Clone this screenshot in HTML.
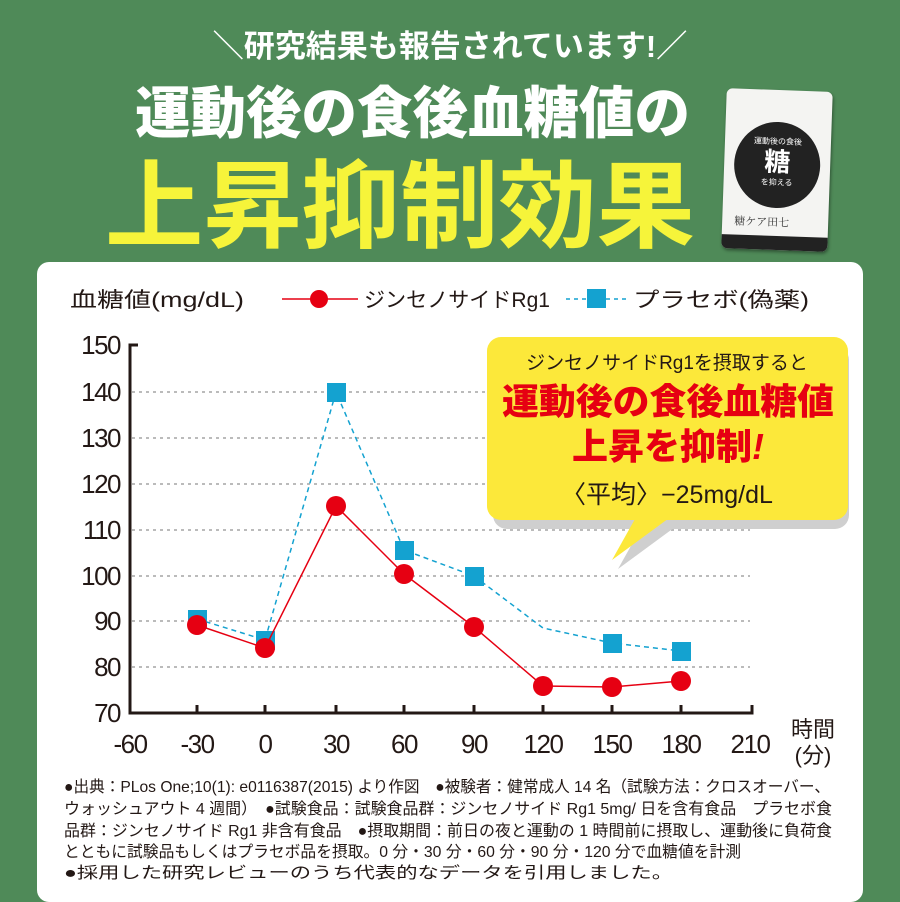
<!DOCTYPE html>
<html><head><meta charset="utf-8"><style>
body{margin:0;width:900px;height:900px;overflow:hidden;background:#4f8a58;font-family:"Liberation Sans","Noto Sans CJK JP",sans-serif;}
.abs{position:absolute;white-space:nowrap}
</style></head><body>
<div style="position:relative;width:900px;height:900px;">
<svg class="abs" style="left:0;top:0" width="900" height="260" font-family="Liberation Sans, Noto Sans CJK JP, sans-serif">
 <text x="450" y="57" text-anchor="middle" fill="#fff" font-size="31" font-weight="700">＼研究結果も報告されています!／</text>
 <text x="135" y="133" fill="#fff" font-size="56" font-weight="900" textLength="555" lengthAdjust="spacingAndGlyphs">運動後の食後血糖値の</text>
 <text x="105" y="240" fill="#f6f43a" font-size="96" font-weight="700" textLength="590" lengthAdjust="spacingAndGlyphs">上昇抑制効果</text>
</svg>
<!-- product -->
<div class="abs" style="left:724px;top:90px;width:106px;height:160px;background:#f4f4f2;border-radius:6px;transform:rotate(2deg);box-shadow:1px 2px 3px rgba(0,0,0,.4);">
 <div style="position:absolute;left:10px;top:32px;width:86px;height:86px;border-radius:50%;background:#222;color:#fff;text-align:center;font-size:8px;">
  <div style="margin-top:14px">運動後の食後</div>
  <div style="font-size:26px;font-weight:700;line-height:30px">糖</div>
  <div>を抑える</div></div>
 <div style="position:absolute;left:12px;top:124px;font-size:11px;color:#333;font-family:'Noto Serif CJK SC',serif">糖ケア田七</div>
 <div style="position:absolute;left:0;bottom:0;width:106px;height:14px;background:#222;border-radius:0 0 6px 6px"></div>
</div>
<!-- card -->
<div class="abs" style="left:37px;top:262px;width:826px;height:640px;background:#fff;border-radius:12px;"></div>
<svg class="abs" style="left:0;top:0" width="900" height="900" font-family="Liberation Sans, Noto Sans CJK JP, sans-serif">
 <g stroke="#bbb" stroke-width="2" stroke-dasharray="3,4">
  <line x1="132" x2="750" y1="392" y2="392"/><line x1="132" x2="750" y1="438" y2="438"/>
  <line x1="132" x2="750" y1="484" y2="484"/><line x1="132" x2="750" y1="530" y2="530"/>
  <line x1="132" x2="750" y1="576" y2="576"/><line x1="132" x2="750" y1="621" y2="621"/>
  <line x1="132" x2="750" y1="667" y2="667"/>
 </g>
 <g stroke="#231815" stroke-width="3" fill="none">
  <path d="M138 345 H130 V713 H752 V705"/>
  <path d="M197 713v-8M265 713v-8M336 713v-8M404 713v-8M474 713v-8M543 713v-8M612 713v-8M681 713v-8"/>
 </g>
 <g font-size="26" fill="#231815" text-anchor="end" letter-spacing="-1.5">
  <text x="120" y="354">150</text><text x="120" y="401">140</text><text x="120" y="447">130</text>
  <text x="120" y="493">120</text><text x="120" y="539">110</text><text x="120" y="585">100</text>
  <text x="120" y="630">90</text><text x="120" y="676">80</text><text x="120" y="722">70</text>
 </g>
 <g font-size="26" fill="#231815" text-anchor="middle" letter-spacing="-1.5">
  <text x="130" y="753">-60</text><text x="197" y="753">-30</text><text x="265" y="753">0</text>
  <text x="336" y="753">30</text><text x="404" y="753">60</text><text x="474" y="753">90</text>
  <text x="543" y="753">120</text><text x="612" y="753">150</text><text x="681" y="753">180</text>
  <text x="750" y="753">210</text>
 </g>
 <g font-size="22" fill="#231815">
  <text x="813" y="737" text-anchor="middle">時間</text><text x="813" y="763" text-anchor="middle">(分)</text>
  <text x="70" y="307" font-size="21" textLength="174" lengthAdjust="spacingAndGlyphs">血糖値(mg/dL)</text>
  <text x="364" y="307" font-size="21" textLength="186" lengthAdjust="spacingAndGlyphs">ジンセノサイドRg1</text>
  <text x="633" y="307" font-size="21" textLength="176" lengthAdjust="spacingAndGlyphs">プラセボ(偽薬)</text>
 </g>
 <line x1="282" x2="358" y1="299" y2="299" stroke="#e60012" stroke-width="1.5"/>
 <circle cx="319" cy="299" r="9" fill="#e60012"/>
 <line x1="566" x2="626" y1="299" y2="299" stroke="#14a2d0" stroke-width="1.5" stroke-dasharray="4,4"/>
 <rect x="587" y="289" width="19" height="19" fill="#14a2d0"/>
 <!-- callout -->
 <g transform="translate(6,9)" fill="#cfcfcf">
  <rect x="487" y="337" width="356" height="183" rx="14"/>
  <path d="M640 510 L612 560 L680 510 Z"/>
 </g>
 <rect x="487" y="337" width="361" height="183" rx="14" fill="#fce83a"/>
 <path d="M640 510 L612 560 L680 510 Z" fill="#fce83a"/>
 <g text-anchor="middle">
  <text x="667" y="369" font-size="19" fill="#231815">ジンセノサイドRg1を摂取すると</text>
  <text x="668" y="414" font-size="36" font-weight="900" fill="#e60012" textLength="332" lengthAdjust="spacingAndGlyphs">運動後の食後血糖値</text>
  <text x="668" y="459" font-size="36" font-weight="900" fill="#e60012">上昇を抑制<tspan font-style="italic">!</tspan></text>
  <text x="667" y="503" font-size="25" fill="#231815">〈平均〉−25mg/dL</text>
 </g>
 <!-- series -->
 <polyline points="197,619 265,640 336,392 404,550 474,576 543,628 612,643 681,651" fill="none" stroke="#14a2d0" stroke-width="1.5" stroke-dasharray="5,4"/>
 <g fill="#14a2d0">
  <rect x="188" y="610" width="19" height="19"/><rect x="256" y="631" width="19" height="19"/>
  <rect x="327" y="383" width="19" height="19"/><rect x="395" y="541" width="19" height="19"/>
  <rect x="465" y="567" width="19" height="19"/><rect x="603" y="634" width="19" height="19"/>
  <rect x="672" y="642" width="19" height="19"/>
 </g>
 <polyline points="197,625 265,648 336,506 404,574 474,627 543,686 612,687 681,681" fill="none" stroke="#e60012" stroke-width="1.5"/>
 <g fill="#e60012">
  <circle cx="197" cy="625" r="10"/><circle cx="265" cy="648" r="10"/><circle cx="336" cy="506" r="10"/>
  <circle cx="404" cy="574" r="10"/><circle cx="474" cy="627" r="10"/><circle cx="543" cy="686" r="10"/>
  <circle cx="612" cy="687" r="10"/><circle cx="681" cy="681" r="10"/>
 </g>
 <g font-size="16" fill="#231815" lengthAdjust="spacingAndGlyphs">
  <text x="64" y="792" textLength="766" lengthAdjust="spacingAndGlyphs">●出典：PLos One;10(1): e0116387(2015) より作図　●被験者：健常成人 14 名（試験方法：クロスオーバー、</text>
  <text x="64" y="814" textLength="768" lengthAdjust="spacingAndGlyphs">ウォッシュアウト 4 週間）　●試験食品：試験食品群：ジンセノサイド Rg1 5mg/ 日を含有食品　プラセボ食</text>
  <text x="64" y="836" textLength="768" lengthAdjust="spacingAndGlyphs">品群：ジンセノサイド Rg1 非含有食品　●摂取期間：前日の夜と運動の 1 時間前に摂取し、運動後に負荷食</text>
  <text x="64" y="857" textLength="677" lengthAdjust="spacingAndGlyphs">とともに試験品もしくはプラセボ品を摂取。0 分・30 分・60 分・90 分・120 分で血糖値を計測</text>
  <text x="64" y="878" textLength="609" lengthAdjust="spacingAndGlyphs">●採用した研究レビューのうち代表的なデータを引用しました。</text>
 </g>
</svg>
</div>
</body></html>
